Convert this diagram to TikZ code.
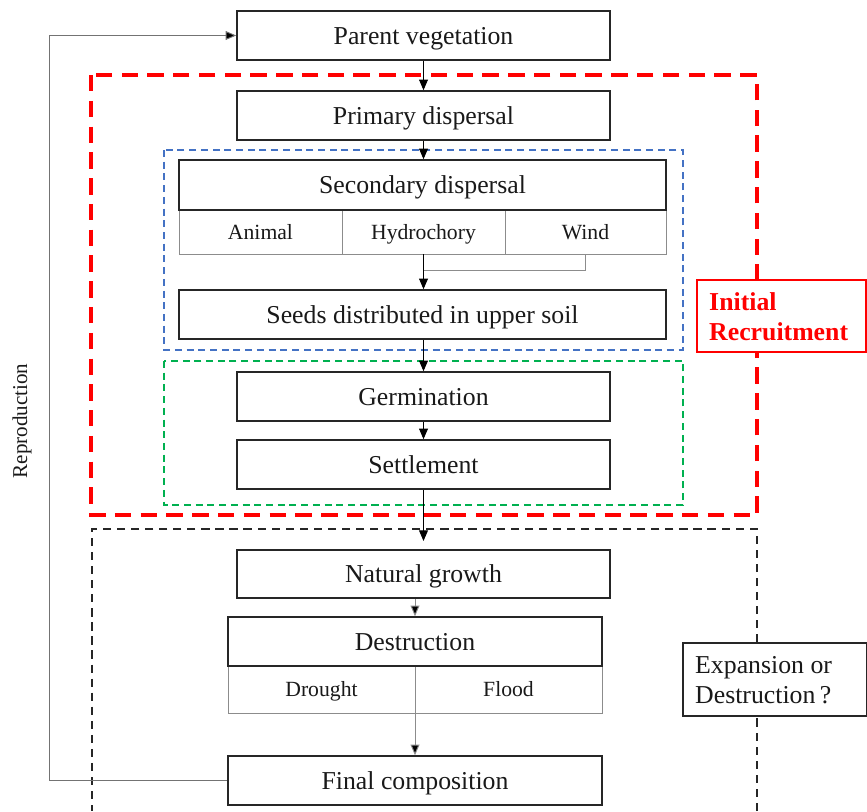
\documentclass[tikz,border=0pt]{standalone}
\usepackage{fontspec}
\setmainfont{Liberation Serif}
\usetikzlibrary{arrows.meta}
\definecolor{dblue}{HTML}{4472C4}
\definecolor{dgreen}{HTML}{00B050}
\definecolor{dred}{HTML}{FF0000}
\begin{document}
\begin{tikzpicture}[x=0.03cm,y=-0.03cm,
  box/.style={draw=black!85, line width=1.3pt, fill=white, inner sep=0pt, font=\fontsize{22}{26}\selectfont, text=black!90, text height=19.4pt, text depth=4.4pt},
  cell/.style={draw=black!45, line width=0.8pt, fill=white, inner sep=0pt, font=\fontsize{18.5}{22}\selectfont, text=black!90, text height=16.3pt, text depth=3.7pt},
  tip/.style={-{Triangle[length=9pt,width=7.5pt,fill=black]}},
  arr/.style={tip, line width=0.8pt, draw=black},
  garr/.style={tip, line width=0.8pt, draw=black!45},
]
\useasboundingbox (0,0) rectangle (867,811);

% dashed groups
\draw[dred, line width=2.6pt, dash pattern=on 14pt off 8pt] (91,75) rectangle (757,515);
\draw[black!85, line width=1.6pt, dash pattern=on 7pt off 5pt] (757,811) -- (757,529) -- (92,529) -- (92,811);
\draw[dblue, line width=1.3pt, dash pattern=on 6pt off 4pt] (164,150) rectangle (683,350);
\draw[dgreen, line width=1.3pt, dash pattern=on 6pt off 4pt] (164,361) rectangle (683,505);

% main boxes
\node[box, minimum width={373*0.03cm}, minimum height={49*0.03cm}] (pv) at (423.5,35.5) {Parent vegetation};
\node[box, minimum width={373*0.03cm}, minimum height={49*0.03cm}] (pd) at (423.5,115.5) {Primary dispersal};

\node[cell, minimum width={163*0.03cm}, minimum height={44*0.03cm}] (an) at (260.5,232) {Animal};
\node[cell, minimum width={163*0.03cm}, minimum height={44*0.03cm}] (hy) at (423.5,232) {Hydrochory};
\node[cell, minimum width={161*0.03cm}, minimum height={44*0.03cm}] (wi) at (585.5,232) {Wind};
\node[box, minimum width={487*0.03cm}, minimum height={50*0.03cm}] (sd) at (422.5,185) {Secondary dispersal};

\node[box, minimum width={487*0.03cm}, minimum height={49*0.03cm}] (sds) at (422.5,314.5) {Seeds distributed in upper soil};

\node[box, minimum width={373*0.03cm}, minimum height={49*0.03cm}] (ge) at (423.5,396.5) {Germination};
\node[box, minimum width={373*0.03cm}, minimum height={49*0.03cm}] (se) at (423.5,464.5) {Settlement};

\node[box, minimum width={373*0.03cm}, minimum height={48*0.03cm}] (ng) at (423.5,574) {Natural growth};

\node[cell, minimum width={187*0.03cm}, minimum height={47*0.03cm}] (dr) at (321.5,689.5) {Drought};
\node[cell, minimum width={187*0.03cm}, minimum height={47*0.03cm}] (fl) at (508.5,689.5) {Flood};
\node[box, minimum width={374*0.03cm}, minimum height={49*0.03cm}] (de) at (415,641.5) {Destruction};

\node[box, minimum width={374*0.03cm}, minimum height={49*0.03cm}] (fc) at (415,780.5) {Final composition};

% side labels
\node[draw=dred, line width=1pt, fill=white, minimum width={169*0.03cm}, minimum height={72*0.03cm}, inner sep=0pt] (ir) at (781.5,316) {};
\node[anchor=base west, inner sep=0pt, align=left, font=\fontsize{22}{25.6}\selectfont\bfseries, text=dred] (irt) at (709,340) {Initial\\Recruitment};
\node[draw=black!85, line width=1pt, fill=white, minimum width={184*0.03cm}, minimum height={73*0.03cm}, inner sep=0pt] (ed) at (775,679.5) {};
\node[anchor=base west, inner sep=0pt, align=left, font=\fontsize{22}{25.6}\selectfont, text=black!90] (edt) at (695,703) {Expansion or\\Destruction\,?};

\node[rotate=90, font=\fontsize{18}{22}\selectfont, text=black!90, inner sep=0pt] (rep) at (22,421) {Reproduction};

% connectors
\draw[arr] (pv.south) -- (pd.north);
\draw[arr] (pd.south) -- (sd.north -| pd.south);
\draw[arr] (hy.south) -- (sds.north -| hy.south);
\coordinate (wj) at (585.5,270);
\draw[draw=black!45, line width=0.8pt] (wi.south) -- (wj) -- (wj -| hy.south);
\draw[arr] (sds.south -| ge.north) -- (ge.north);
\draw[arr] (ge.south) -- (se.north);
\coordinate (ngin) at (423.5,541);
\draw[arr] (se.south) -- (ngin);
\draw[garr] (ng.south -| de.north) -- (de.north);
\draw[garr] (de.south) -- (fc.north);
\coordinate (fb) at (49,780.5);
\draw[draw=black!55, line width=0.8pt, tip] (fc.west) -- (fb) |- (pv.west);
\end{tikzpicture}
\end{document}
